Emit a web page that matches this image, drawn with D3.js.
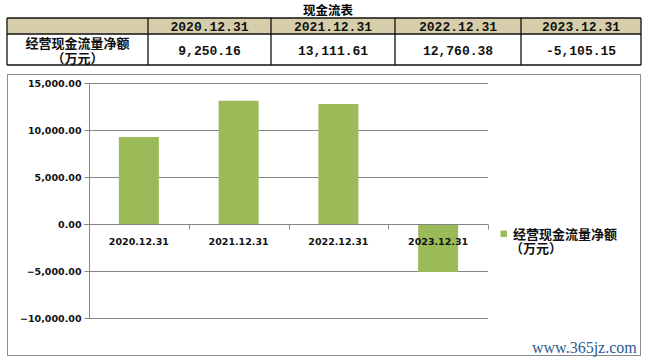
<!DOCTYPE html>
<html>
<head>
<meta charset="utf-8">
<script src="https://cdn.jsdelivr.net/npm/d3@7/dist/d3.min.js"></script>
<style>
  body { margin: 0; background: #fff; }
  svg { display: block; }
</style>
</head>
<body>
<div id="chart"></div>
<script>
// data
const title = "现金流表";
const categories = ["2020.12.31", "2021.12.31", "2022.12.31", "2023.12.31"];
const values = [9250.16, 13111.61, 12760.38, -5105.15];
const valueLabels = ["9,250.16", "13,111.61", "12,760.38", "-5,105.15"];
const seriesName = ["经营现金流量净额", "（万元）"];
const yTicks = [-10000, -5000, 0, 5000, 10000, 15000];

const W = 654, H = 363;
const svg = d3.select("#chart").append("svg").attr("width", W).attr("height", H);

const cjk = "'Noto Sans CJK SC', 'Noto Sans', sans-serif";
const mono = "'Liberation Mono', 'DejaVu Sans Mono', monospace";
const sans = "'DejaVu Sans', Tahoma, sans-serif";

// ---- table ----
svg.append("text")
  .attr("x", 328).attr("y", 15)
  .attr("text-anchor", "middle")
  .attr("font-family", cjk).attr("font-weight", "bold").attr("font-size", 12.5)
  .text(title);

const colX = [7, 148, 271, 395, 521, 641];
const rowY = [18, 34, 65];

svg.append("rect")
  .attr("x", colX[0]).attr("y", rowY[0])
  .attr("width", colX[5] - colX[0]).attr("height", rowY[1] - rowY[0])
  .attr("fill", "#d6ceab");

const tbl = svg.append("g").attr("stroke", "#111").attr("stroke-width", 1.3);
rowY.forEach(y => tbl.append("line").attr("x1", colX[0]).attr("x2", colX[5]).attr("y1", y).attr("y2", y));
colX.forEach(x => tbl.append("line").attr("x1", x).attr("x2", x).attr("y1", rowY[0]).attr("y2", rowY[2]));

categories.forEach((c, i) => {
  const cx = (colX[i + 1] + colX[i + 2]) / 2;
  svg.append("text")
    .attr("x", cx).attr("y", 30.5)
    .attr("text-anchor", "middle")
    .attr("font-family", mono).attr("font-weight", "bold").attr("font-size", 13)
    .attr("fill", "#111")
    .text(c);
  svg.append("text")
    .attr("x", cx).attr("y", 54.5)
    .attr("text-anchor", "middle")
    .attr("font-family", mono).attr("font-weight", "bold").attr("font-size", 13)
    .attr("fill", "#111")
    .text(valueLabels[i]);
});

const rowHead = svg.append("text")
  .attr("text-anchor", "middle")
  .attr("font-family", cjk).attr("font-weight", "bold").attr("font-size", 13)
  .attr("fill", "#111");
seriesName.forEach((t, i) => {
  rowHead.append("tspan")
    .attr("x", (colX[0] + colX[1]) / 2).attr("y", 47.5 + i * 15)
    .text(t);
});

// ---- chart ----
svg.append("rect")
  .attr("x", 7.5).attr("y", 74.5).attr("width", 633).attr("height", 281)
  .attr("fill", "#fff").attr("stroke", "#8c8c8c");

const plot = { left: 89, right: 488, top: 83, bottom: 318 };
const x = d3.scaleBand().domain(categories).range([plot.left, plot.right]);
const y = d3.scaleLinear().domain([-10000, 15000]).range([plot.bottom, plot.top]);
const grey = "#868686";

// gridlines
svg.append("g").selectAll("line").data(yTicks.filter(d => d !== 0)).join("line")
  .attr("x1", plot.left).attr("x2", plot.right)
  .attr("y1", d => Math.round(y(d)) + 0.5).attr("y2", d => Math.round(y(d)) + 0.5)
  .attr("stroke", grey);

// bars
const barW = 40;
svg.append("g").selectAll("rect").data(categories).join("rect")
  .attr("x", (d, i) => x(d) + x.bandwidth() / 2 - barW / 2)
  .attr("y", (d, i) => y(Math.max(0, values[i])))
  .attr("width", barW)
  .attr("height", (d, i) => Math.abs(y(values[i]) - y(0)))
  .attr("fill", "#9bbb59");

// y axis
const yAxis = svg.append("g")
  .attr("transform", `translate(${plot.left + 0.5},0)`)
  .call(d3.axisLeft(y).tickValues(yTicks).tickSize(5).tickPadding(3)
    .tickFormat(d => d3.format(",.2f")(d)));
yAxis.selectAll("line, path").attr("stroke", grey);
yAxis.selectAll("text")
  .attr("font-family", sans).attr("font-weight", "bold").attr("font-size", 9.5)
  .attr("fill", "#111");
yAxis.select(".domain").attr("d", `M0,${plot.top}V${plot.bottom}`);

// zero axis with category ticks
const zy = Math.round(y(0)) + 0.5;
svg.append("line")
  .attr("x1", plot.left - 5).attr("x2", plot.right)
  .attr("y1", zy).attr("y2", zy)
  .attr("stroke", grey);
svg.append("g").selectAll("line").data(categories.slice(1).map(c => x(c)).concat([plot.right])).join("line")
  .attr("x1", d => Math.round(d) + 0.5).attr("x2", d => Math.round(d) + 0.5)
  .attr("y1", zy).attr("y2", zy + 5)
  .attr("stroke", grey);

svg.append("g").selectAll("text").data(categories).join("text")
  .attr("x", d => x(d) + x.bandwidth() / 2)
  .attr("y", 245)
  .attr("text-anchor", "middle")
  .attr("font-family", sans).attr("font-weight", "bold").attr("font-size", 9.5)
  .attr("fill", "#111")
  .text(d => d);

// legend
svg.append("rect")
  .attr("x", 500.5).attr("y", 230.5).attr("width", 6.5).attr("height", 6.5)
  .attr("fill", "#9bbb59");
const legendText = svg.append("text")
  .attr("font-family", cjk).attr("font-weight", "bold").attr("font-size", 13)
  .attr("fill", "#111");
legendText.append("tspan").attr("x", 513).attr("y", 239).text(seriesName[0]);
legendText.append("tspan").attr("x", 510).attr("y", 253).text(seriesName[1]);

// watermark
svg.append("text")
  .attr("x", 532).attr("y", 353)
  .attr("font-family", "'Liberation Serif', 'DejaVu Serif', serif")
  .attr("font-size", 16)
  .attr("fill", "#2c5c94")
  .text("www.365jz.com");
</script>
</body>
</html>
